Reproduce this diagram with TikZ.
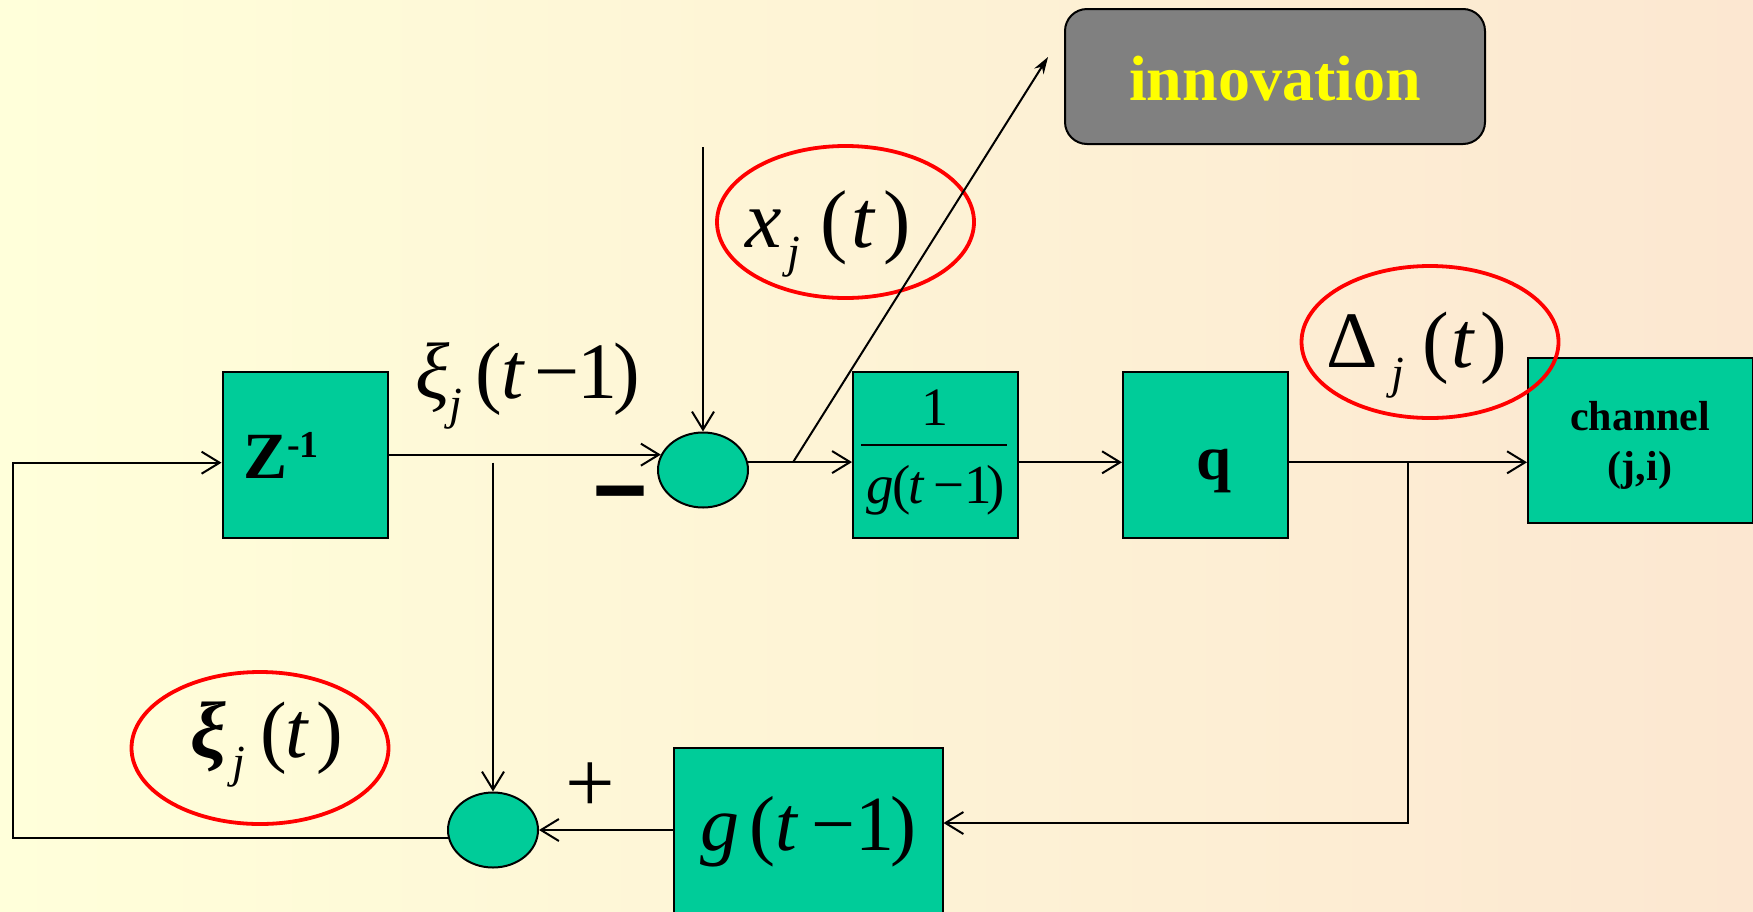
\documentclass[tikz,border=0pt]{standalone}
\usepackage{fontspec}
\setmainfont{Liberation Serif}
\usetikzlibrary{arrows.meta,shapes.geometric}
\definecolor{bgA}{HTML}{FFFFDA}
\definecolor{bgB}{HTML}{FCE7D1}
\definecolor{boxfill}{HTML}{00CC99}
\definecolor{innofill}{HTML}{808080}
\definecolor{innotext}{HTML}{FFFF00}
\definecolor{ringred}{HTML}{FF0000}
\newcommand\setfs[1]{\fontsize{#1pt}{#1pt}\selectfont}
\newcommand\lowj[2]{\raisebox{-#1pt}{\setfs{#2}\itshape j}}
\begin{document}
\begin{tikzpicture}[x=1pt,y=-1pt,
  blockbox/.style={draw=black, line width=2pt, fill=boxfill, rectangle, inner sep=0pt},
  sumnode/.style={draw=black, line width=2pt, fill=boxfill, ellipse, inner sep=0pt, minimum width=90pt, minimum height=75pt},
  ring/.style={draw=ringred, line width=3.8pt, ellipse, inner sep=0pt, minimum width=257pt, minimum height=152pt},
  wire/.style={line width=2pt, draw=black},
  arr/.style={wire, -{Straight Barb[length=18pt,width=22pt,line width=2pt]}},
  farr/.style={wire, -{Stealth[length=17pt,width=11pt]}},
  mathlbl/.style={inner sep=0pt, text=black},
]
\clip (0,0) rectangle (1753,911);
\shade[left color=bgA, right color=bgB] (0,0) rectangle (1753,911);

% blocks
\node[blockbox, minimum width=165pt, minimum height=166pt] (zbox) at (305,455) {};
\node[blockbox, minimum width=165pt, minimum height=166pt] (fbox) at (935.5,455) {};
\node[blockbox, minimum width=165pt, minimum height=166pt] (qbox) at (1205.5,455) {};
\node[blockbox, minimum width=225pt, minimum height=165pt] (chbox) at (1640.5,440) {};
\node[blockbox, minimum width=269pt, minimum height=183pt] (gbox) at (808,839) {};
\node[draw=black, line width=2pt, fill=innofill, rounded corners=22pt, minimum width=420pt, minimum height=135pt, inner sep=0pt] (inno) at (1275,76.5) {};
\node[sumnode] (s1) at (703,470) {};
\node[sumnode] (s2) at (493,830) {};

% red rings
\node[ring] (ringx) at (845.5,222) {};
\node[ring] (ringd) at (1430,342) {};
\node[ring] (ringxi) at (260,748) {};

% texts
\node[mathlbl, anchor=base west] (zlab) at (243,478) {\setfs{66}\bfseries Z\raisebox{21pt}{\setfs{38}-1}};
\node[mathlbl, anchor=base] (fnum) at (934.5,425) {\setfs{54}1};
\draw[line width=2pt] (861,445) -- (1007,445);
\node[mathlbl, anchor=base west] (fden) at (866,503) {\setfs{55}\textit{g}\kern-1pt(\kern-3pt\textit{t}\kern9pt−\kern0pt1\kern-5pt)};
\node[mathlbl, anchor=base] (qlab) at (1214,479) {\setfs{63}\bfseries q};
\node[mathlbl, anchor=base] (chlab1) at (1640,430) {\setfs{42}\bfseries channel};
\node[mathlbl, anchor=base] (chlab2) at (1640,480) {\setfs{42}\bfseries (j,i)};
\node[mathlbl, anchor=base, text=innotext] (innolab) at (1275,100) {\setfs{64}\bfseries innovation};
\node[mathlbl, anchor=base west] (glab) at (700,850) {\setfs{78}\textit{g}\kern10pt(\kern0pt\textit{t}\kern13pt−\kern0pt1\kern-4pt)};
\node[mathlbl, anchor=base west] (xlab) at (745,247) {\setfs{82}\textit{x}\kern6pt\lowj{20}{46}\kern20pt(\kern4pt\textit{t}\kern7pt)};
\node[mathlbl, anchor=base west] (dlab) at (1326,367) {\setfs{80}Δ\kern14pt\lowj{21}{46}\kern18pt(\kern2pt\textit{t}\kern6pt)};
\node[mathlbl, anchor=base west] (xi1lab) at (415,398) {\setfs{80}\textit{ξ}\kern0pt\lowj{21}{46}\kern13pt(\kern0pt\textit{t}\kern9pt−\kern-2pt1\kern-4pt)};
\node[mathlbl, anchor=base west] (xi2lab) at (190,757) {\setfs{80}\textit{\bfseries ξ}\kern6pt\lowj{20}{46}\kern16pt(\kern-2pt\textit{t}\kern7pt)};
\node[mathlbl, anchor=base] (minus) at (620,525) {\scalebox{1}[1.6]{\setfs{92}\bfseries –}};
\node[mathlbl] (plus) at (590,788) {\setfs{88}+};

% connectors
\coordinate (xin) at (703,147);
\coordinate (tap) at (793,462.3);
\coordinate (innotip) at (1048,57);
\coordinate (bq) at (1408,462.3);
\coordinate (bc) at (1408,823);
\coordinate (vz) at (493,462.7);
\coordinate (lc) at (13,462.7);

\draw[arr] (xin) -- (s1.north);
\draw[arr] (zbox.east |- s1.160) -- (s1.160);
\draw[arr] (s1.10) -- (s1.10 -| fbox.west);
\draw[farr] (tap) -- (innotip);
\draw[arr] (fbox.east |- tap) -- (qbox.west |- tap);
\draw[arr] (qbox.east |- tap) -- (chbox.west |- tap);
\draw[arr] (bq) -- (bc) -- (bc -| gbox.east);
\draw[arr] (gbox.west |- s2) -- (s2.east);
\draw[arr] (vz) -- (s2.north);
\draw[arr] (s2.190) -| (lc) -- (lc -| zbox.west);
\end{tikzpicture}
\end{document}
